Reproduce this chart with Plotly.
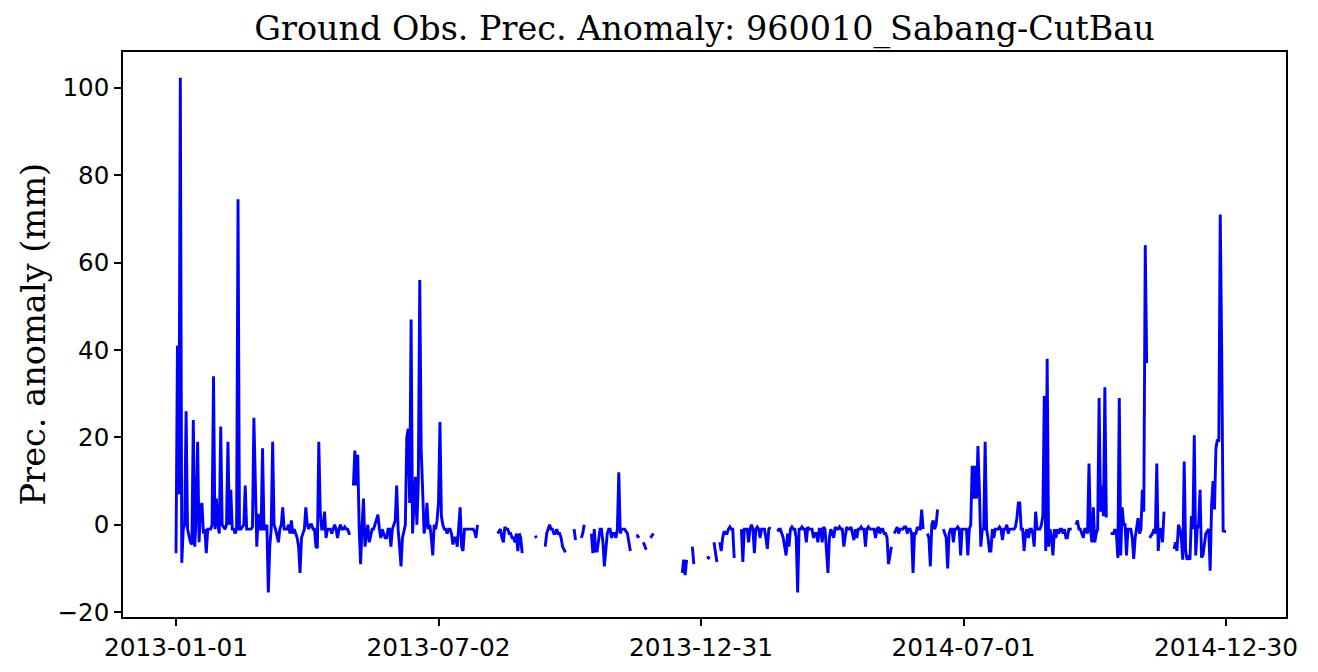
import pandas as pd
import plotly.graph_objects as go

N = None
jan13 = [-6.5, 41, 7, 102.3, -8.7, -1, 0, 26, -1, -3, -4, -4.5, 24, -5, 2, 19, -4, 4, 5, -2, -1, -6.5, -1, -1, -1, 0, 34, -1, 6, 0, -2]
feb13 = [22.5, 0, -0.5, -1, 0, 19, 0, 8, -1, -1, -2, -1, 74.5, -1, -1, -0.5, 0, 9, -1, -1, -1, -1, -0.5, 24.5, 10, -5, 2.5, -1]
mar13 = [-1, 17.5, -1, -1, 0, -15.5, -5, -1, 19, 0, -1, -3, -4, -1, 0, 4, -1, -1, -1, 0, -2, 1, -2, -1, -2, -3, -5, -11, -3, -2, -1]
apr13 = [4, 0, -1, 0, 0, -1, -1, -5, -5.3, 19, 3, -1, -1, 3, -3, -1, -1, -1, -2, -1, 0, -1, -3, -1, 0, -1, -1, -0.5, -1, -1]
may13 = [-2, -2, N, 9, 17, 9, 16, -1, -9, 0, 6, -5, -2, 0, -4, -2, -1, -1, 0, 1, 2.3, -1, -3, -1, -2, -3, -3, -1, -1, -5, -1]
jun13 = [0, 1, 9, -1, -5, -9.5, -3, -1, 0, 20, 22, 5, 47, -2, 5, 11, 0, 10, 56, 17, 8, -2, 0, 5, -1, 0, -3, -7, 0, -1]
jul13 = [1, 5, 23.5, 2, 0, -1, -1, -2, -1, -1, -2, -4.5, -3, -3, -5, 0, 4, -5, -6, -1, -1, -1, -1, -1, -1, -1, -1.5, -3, 0, N, N]
aug13 = [N] * 11 + [-2, -1.5, -1, -3, -4, -0.5, -1, -1, -2, -2, -3, -3, -4, -2, -6, -2, -3, -6.5, N, N]
sep13 = [N] * 6 + [-2.5, -3] + [N] * 5 + [-5, -2, -1, 0, -1, -1, -2, -2, -1, -2, -2, -3, -5, -5.5, -6.3] + [N, N]
oct13 = [N] * 3 + [-1, -3.5] + [N] * 3 + [-3, -2, 0] + [N] * 4 + [-2, -6.5, -1, -6, -6, -3, -1, -1, -4, -9.5, -6, -2, -1, -1, -3, -2]
nov13 = [-2, -3, -1, 12, -2, -1, -1, -1, -1.5, -2, -4, -6, N, N, N, -2.5, -2.5, -3, N, N, -4, -5, -5.7, N, N, -3, -2.5, -2, N, N]
dec13 = [N] * 17 + [-11, -8, -11.5, -8] + [N] * 3 + [-5, -9] + [N] * 5
jan14 = [N] * 3 + [-7.5, -7.5, -7.8] + [N] * 2 + [-4, -6, -8.5, N, -4, -6, -3, -1.5, -2, -2, -1, -0.5, -1, -1, -7.6] + [N] * 4 + [-1, -8.5, -1, -1]
feb14 = [-1, -4, -1, 0, -1, -6.5, -1, -0.5, -1, -3, -1, -1, -1, -3, -5.5, -1, -0.5, N, N, N, N, -1.5, -1, -1, -2, -3, -5, -7]
mar14 = [-2, -5, -1, -0.5, -1, -1, -3, -15.5, -1, -1, -0.5, -1, -1, -4, -0.5, -1, -1, -1, -3, -2, -2, -4, -1, -1, -4, -0.5, -1, -5, -11, -3, -1]
apr14 = [-2, -3, -0.5, -1, -1, -0.5, -1, -1, -5, -2, -0.5, -1, -1, -0.5, -2, -3.5, -1, -3, -1, -1, -0.5, -1, -1, -5, -1, -0.5, -1, -1, -1, -1]
may14 = [-3, -1, -0.5, -2, -1, -1, -2, -2, -3, -9, -7, -5, N, -2, -1, -0.5, -2, -1, -1, -1, -0.5, -0.5, -2, -1, -1, -2, -11, -2, -2, -0.5, -1]
jun14 = [-1, 3.5, -1, N, N, -2, -3, -9.5, 0, 1, -1, 0, 3.5, N, N, N, -1, -2, -3, -10, -2, -1, -1, -4, -1, -1, -0.5, -1, -7, -1]
jul14 = [-1, -1, -1, -7, -1, 0, 13.5, 6, 13.5, 6, 18, 8, -5, -1, -1, 19, -1, -3, -6, -6, -1, -3, -1, -1, -1, -0.5, -1, -3.5, -1, -1, 0]
aug14 = [-2, -1, -1, -1, -1, -0.5, 1.5, 5, 5, -1, -1, -6, -2, -1, -3, -1, -1, -2, -5, 3, -1, -1, -1, 0, 2, 29.5, -6, 38, -5, -1, -3]
sep14 = [-7, -1, -3, -1, -2, -1, -1, -2, -1, -3, -3, -1, -1, -1, N, N, 0, 1, -1, -1, -2, -3, -1, -1, -2, 14, -1, -4, 4, -4]
oct14 = [-2, -1, 29, 3, 9, 2, 31.5, 2, 2, N, -2, -2, -2, -1, -2, -7.6, 29, -7, 4, 0, 0, -7, -1, -1, -1, -3, -7.8, -3, -1, 1.5, -2]
nov14 = [-1, 8, 3, 64, 37, N, -3, -2.5, -2, -1, -2, 14, -6, -1, -1, -4, 3, N, N, N, N, N, N, -5.5, -4, -6, 0, -1, -3, -8]
dec14 = [14.5, -6, -8, -7, -8, 2, -1, 20.5, -7, -1, 0, 8, -7.5, -7, -4, -2, -1.5, -1, -10.5, 4.5, 10, 3.5, 17.5, 19.5, 19, 71, 40, -1.4, -1.5, -1.5, N]

months = [jan13, feb13, mar13, apr13, may13, jun13, jul13, aug13, sep13, oct13, nov13, dec13,
          jan14, feb14, mar14, apr14, may14, jun14, jul14, aug14, sep14, oct14, nov14, dec14]
values = [v for m in months for v in m]
dates = pd.date_range("2013-01-01", periods=len(values), freq="D")

x_tick_labels = ["2013-01-01", "2013-07-02", "2013-12-31", "2014-07-01", "2014-12-30"]
y_ticks = [-20, 0, 20, 40, 60, 80, 100]

fig = go.Figure()
fig.add_trace(go.Scatter(x=dates, y=values, mode="lines",
                         line=dict(color="#0000ff", width=2.9),
                         connectgaps=False, showlegend=False))

W, H = 1318, 672
OFF = 8  # page body margin
L, R, T, B = 123 - OFF, 32 + OFF, 52 - OFF, 55 + OFF

fig.update_layout(
    width=W, height=H,
    margin=dict(l=L, r=R, t=T, b=B, pad=0),
    paper_bgcolor="white", plot_bgcolor="white",
    title=dict(text="Ground Obs. Prec. Anomaly: 960010_Sabang-CutBau",
               font=dict(family="DejaVu Serif", size=33.4, color="black"),
               x=0.5, xref="paper", xanchor="center",
               y=1 - (28 - OFF) / H, yref="container", yanchor="middle"),
    xaxis=dict(range=["2012-11-25 06:00", "2015-02-09 14:00"],
               tickvals=x_tick_labels, ticktext=x_tick_labels,
               showgrid=False, zeroline=False,
               showline=True, linecolor="black", linewidth=1.6, mirror=True,
               ticks="outside", ticklen=7, tickwidth=1.6, tickcolor="black",
               tickfont=dict(family="DejaVu Sans", size=24.8, color="black")),
    yaxis=dict(range=[-21.1, 108.2],
               tickvals=y_ticks,
               showgrid=False, zeroline=False,
               showline=True, linecolor="black", linewidth=1.6, mirror=True,
               ticks="outside", ticklen=7, tickwidth=1.6, tickcolor="black",
               tickfont=dict(family="DejaVu Sans", size=24.5, color="black")),
    annotations=[dict(text="Prec. anomaly (mm)", textangle=-90,
                      xref="paper", yref="paper",
                      x=(33 - OFF - L) / (W - L - R), y=0.5,
                      xanchor="center", yanchor="middle", showarrow=False,
                      font=dict(family="DejaVu Serif", size=33.6, color="black"))],
)

fig.write_html("out.html")
